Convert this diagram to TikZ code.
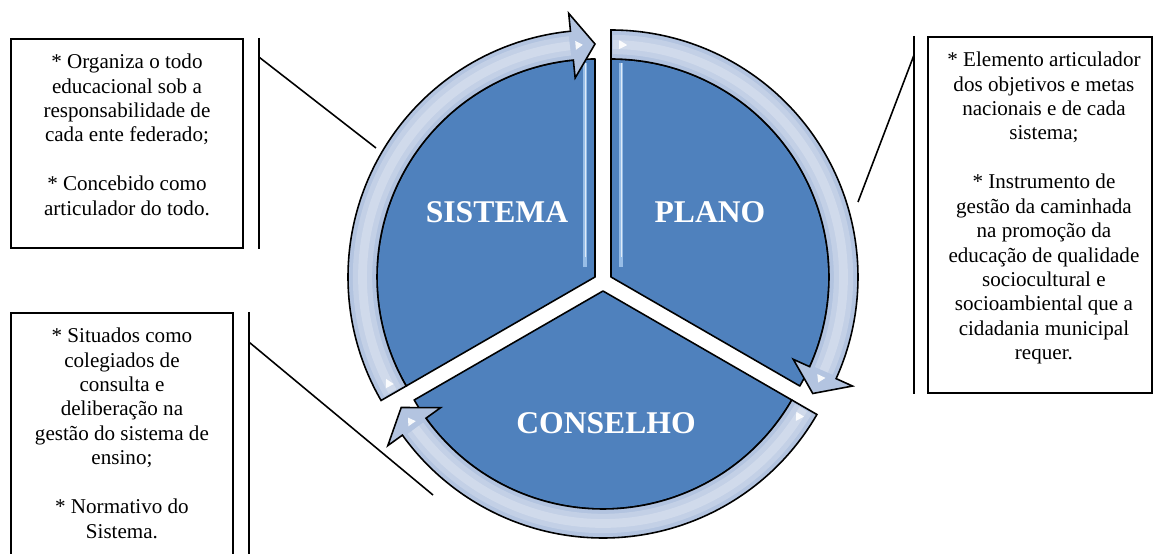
\documentclass[tikz,border=0pt]{standalone}
\usepackage{fontspec}
\setmainfont{Liberation Serif}
\usetikzlibrary{positioning,calc}
\definecolor{pieblue}{HTML}{4F81BD}
\definecolor{ringblue}{HTML}{B3C4E0}
\definecolor{glowblue}{HTML}{A9CDF2}
\tikzset{sector/.style={fill=pieblue,draw=black,line width=0.9pt,line join=round},
         ringarrow/.style={fill=ringblue,draw=black,line width=0.9pt,line join=miter},
         stripe/.style={glowblue,line width=2.2pt,opacity=0.8},
         notebox/.style={draw,line width=1.1pt,anchor=north west,inner sep=0pt,
                         font=\fontsize{12}{13.9}\selectfont},
         piename/.style={text=white,font=\fontsize{18}{21}\selectfont\bfseries},
         leader/.style={line width=0.9pt}
}
% curved arrow of one segment: tail angle, tip angle
\newcommand{\bandarrow}[2]{%
  \draw[ringarrow] (#1:218) -- (#1:247) arc[start angle=#1,end angle=#2+5.7,radius=247]
    -- (#2+5.7:265) -- (#2:233) -- (#2+5.7:200) -- (#2+5.7:218)
    arc[start angle=#2+5.7,end angle=#1,radius=218] -- cycle;
  \draw[white,opacity=0.22,line width=11pt] (#1-0.5:232.5) arc[start angle=#1-0.5,end angle=#2+6.2,radius=232.5];
  \draw[white,opacity=0.22,line width=5pt] (#1-0.5:232.5) arc[start angle=#1-0.5,end angle=#2+6.2,radius=232.5];
  \fill[white,opacity=0.9] (#1-2:228) -- (#1-2:237) -- (#1-4:232.5) -- cycle;
  \fill[white,opacity=0.9] (#2+4.8:228) -- (#2+4.8:237) -- (#2+3:232.5) -- cycle;
}

\begin{document}
\begin{tikzpicture}[x=0.02cm,y=0.02cm]
\path[use as bounding box] (0,0) rectangle (1153,554);
\fill[white] (0,0) rectangle (1153,554);

% the three segments
\begin{scope}[shift={(595,277)}]
\draw[sector] (0,0) -- (210:218) arc[start angle=210,end angle=90,radius=218] -- cycle;
\draw[stripe] (-10,10) -- (-10,214);
\draw[white,line width=0.5pt,opacity=0.7] (-10,20) -- (-10,214);
\bandarrow{210}{90}
\end{scope}
\begin{scope}[shift={(611,277)}]
\draw[sector] (0,0) -- (90:218) arc[start angle=90,end angle=-30,radius=218] -- cycle;
\draw[stripe] (10,10) -- (10,214);
\draw[white,line width=0.5pt,opacity=0.7] (10,20) -- (10,214);
\bandarrow{90}{-30}
\end{scope}
\begin{scope}[shift={(603,263)}]
\draw[sector] (0,0) -- (-30:218) arc[start angle=-30,end angle=-150,radius=218] -- cycle;
\bandarrow{-30}{-150}
\end{scope}

\node[piename] (sistema) at (497,342) {SISTEMA};
\node[piename] (plano) at (710,342) {PLANO};
\node[piename] (conselho) at (606,131) {CONSELHO};

% notes
\node[notebox,minimum width=4.64cm,minimum height=4.18cm] (sisnote) at (10,516)
  {\parbox[c][4.18cm][t]{4.5cm}{\centering\vspace*{8.6pt}
   * Organiza o todo\\ educacional sob a\\ responsabilidade de\\ cada ente federado;\\[13.9pt]
   * Concebido como\\ articulador do todo.}};
\node[notebox,minimum width=4.48cm,minimum height=7.12cm] (planote) at (927,518)
  {\hspace*{0.16cm}\parbox[c][7.12cm][t]{4.1cm}{\centering\vspace*{8.6pt}
   * Elemento articulador\\ dos objetivos e metas\\ nacionais e de cada\\ sistema;\\[13.9pt]
   * Instrumento de\\ gestão da caminhada\\ na promoção da\\ educação de qualidade\\
   sociocultural e\\ socioambiental que a\\ cidadania municipal\\ requer.}};
\node[notebox,minimum width=4.44cm,minimum height=5.4cm] (connote) at (10,242)
  {\parbox[c][5.4cm][t]{4.3cm}{\centering\vspace*{8.6pt}
   * Situados como\\ colegiados de\\ consulta e\\ deliberação na\\ gestão do sistema de\\ ensino;\\[13.9pt]
   * Normativo do\\ Sistema.}};

% leaders
\coordinate (sisbar1) at ([xshift=0.3cm]sisnote.north east);
\coordinate (sisbar2) at ([xshift=0.3cm]sisnote.south east);
\coordinate (sisknee) at ([xshift=0.3cm,yshift=-0.38cm]sisnote.north east);
\coordinate (sistip) at (376,406);
\coordinate (plabar1) at ([xshift=-0.26cm]planote.north west);
\coordinate (plabar2) at ([xshift=-0.26cm]planote.south west);
\coordinate (plaknee) at ([xshift=-0.26cm,yshift=-0.38cm]planote.north west);
\coordinate (platip) at (858,352);
\coordinate (conbar1) at ([xshift=0.3cm]connote.north east);
\coordinate (conbar2) at ([xshift=0.3cm]connote.south east);
\coordinate (conknee) at ([xshift=0.3cm,yshift=-0.6cm]connote.north east);
\coordinate (contip) at (433,59);
\draw[leader] (sisbar1) -- (sisbar2);
\draw[leader] (sisknee) -- (sistip);
\draw[leader] (plabar1) -- (plabar2);
\draw[leader] (plaknee) -- (platip);
\draw[leader] (conbar1) -- (conbar2);
\draw[leader] (conknee) -- (contip);

\end{tikzpicture}
\end{document}
